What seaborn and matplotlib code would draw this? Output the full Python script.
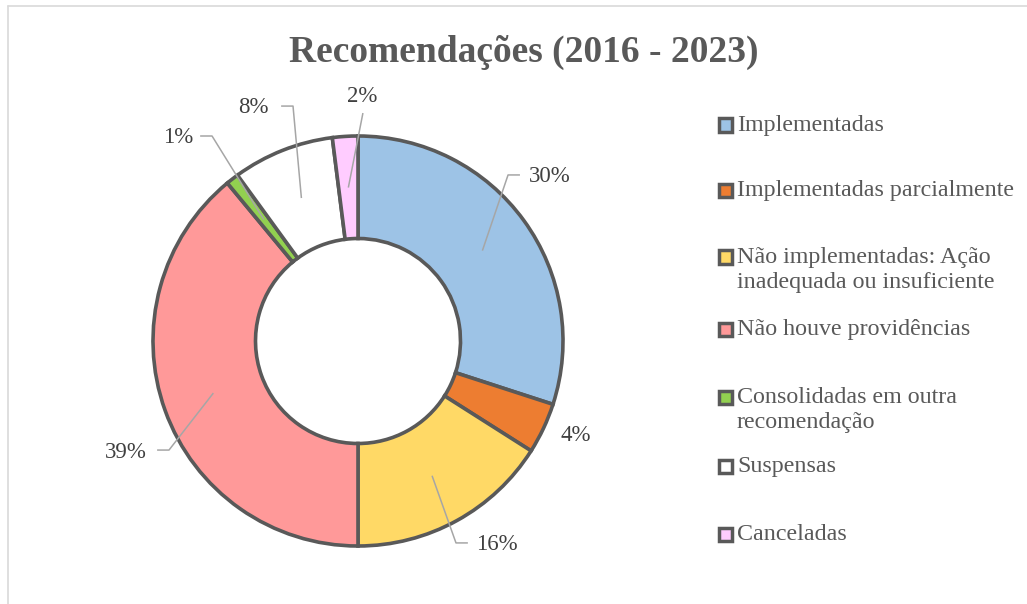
import matplotlib.pyplot as plt
import seaborn as sns
from matplotlib.lines import Line2D
from matplotlib.patches import Rectangle
import numpy as np

categories = [
    "Implementadas",
    "Implementadas parcialmente",
    "Não implementadas: Ação\ninadequada ou insuficiente",
    "Não houve providências",
    "Consolidadas em outra\nrecomendação",
    "Suspensas",
    "Canceladas",
]
shares = [30, 4, 16, 39, 1, 8, 2]
pct_labels = ["30%", "4%", "16%", "39%", "1%", "8%", "2%"]
colors = ["#9DC3E6", "#ED7D31", "#FFD966", "#FF9999", "#92D050", "#FFFFFF", "#FFCCFF"]

# label placement (pie radius units) and leader elbows, None = no leader
label_pos = [(0.937, 0.80), (1.063, -0.459), (0.678, -0.995), (-1.132, -0.546),
             (-0.878, 0.995), (-0.512, 1.141), (0.020, 1.195)]
elbows = [(0.732, 0.81), None, (0.478, -0.985), (-0.922, -0.532),
          (-0.712, 1.0), (-0.317, 1.146), (0.024, 1.112)]
legend_y = [125, 190, 257, 329, 397, 466, 534]  # px from top, first line

W, H = 1027, 604
CX, CY, R = 358, 341, 205

sns.set_theme(style="white")
plt.rcParams["font.family"] = ["Liberation Serif", "DejaVu Serif"]

fig = plt.figure(figsize=(W / 100, H / 100), dpi=100)
ax = fig.add_axes([0, 0, 1, 1])

edge = "#595959"
wedges, _ = ax.pie(shares, colors=colors, startangle=90, counterclock=False,
                   radius=1.0, wedgeprops=dict(width=0.5, edgecolor=edge, linewidth=2.6))
ax.set_xlim(-CX / R, (W - CX) / R)
ax.set_ylim(-(H - CY) / R, CY / R)
ax.axis("off")

for w, lab, pos, elb in zip(wedges, pct_labels, label_pos, elbows):
    ang = np.deg2rad((w.theta1 + w.theta2) / 2)
    mx, my = 0.75 * np.cos(ang), 0.75 * np.sin(ang)
    ax.text(pos[0], pos[1], lab, ha="center", va="center", fontsize=16.5, color="#404040")
    if elb is None:
        continue
    if abs(elb[1] - pos[1]) < 0.05:
        side = np.sign(pos[0] - elb[0])
        start = (elb[0] + side * 0.058, elb[1])
        xs, ys = [start[0], elb[0], mx], [start[1], elb[1], my]
    else:
        xs, ys = [elb[0], mx], [elb[1], my]
    ax.plot(xs, ys, color="#A6A6A6", lw=1.1, solid_capstyle="butt")

# legend drawn by hand to keep Excel's uneven spacing
for cat, col, y in zip(categories, colors, legend_y):
    yf = 1 - y / H
    fig.patches.append(Rectangle((719 / W, yf - 6.5 / H), 13 / W, 13 / H, transform=fig.transFigure,
                                 facecolor=col, edgecolor=edge, linewidth=2.5))
    fig.text(737 / W, yf + 10 / H, cat, ha="left", va="top", fontsize=17.3,
             color="#595959", linespacing=1.25)

fig.text(524 / W, 1 - 52 / H, "Recomendações (2016 - 2023)", ha="center", va="center",
         fontsize=27, fontweight="bold", color="#595959")

# chart area border (only top and left edges fall inside the picture)
fig.lines.append(Line2D([8 / W, 8 / W], [0, 1 - 6 / H], transform=fig.transFigure, color="#D9D9D9", lw=1.2))
fig.lines.append(Line2D([8 / W, 1], [1 - 6 / H, 1 - 6 / H], transform=fig.transFigure, color="#D9D9D9", lw=1.2))

fig.savefig("out.png", dpi=100)
